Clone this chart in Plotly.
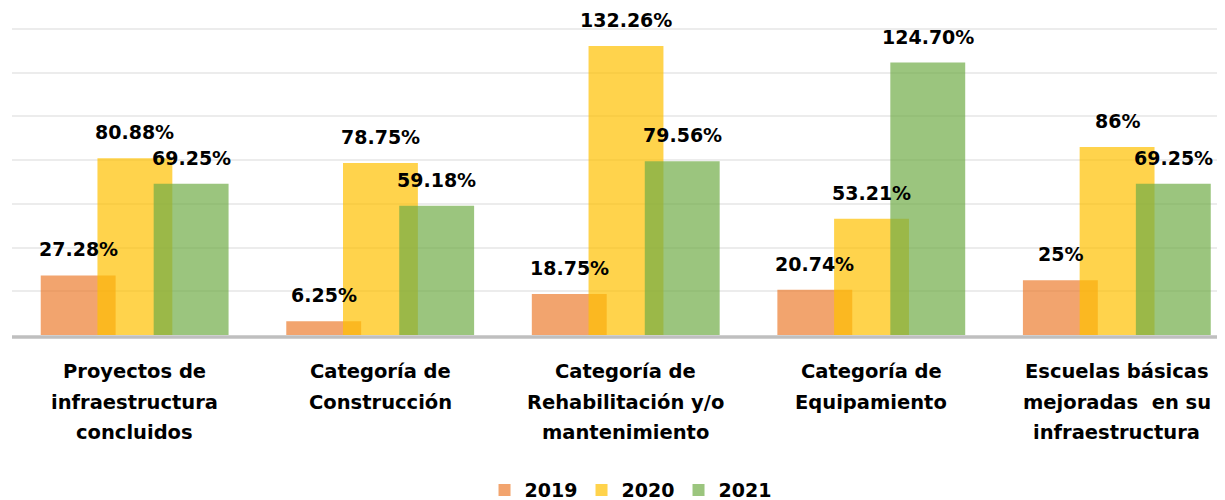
import plotly.graph_objects as go

categories = [
    "Proyectos de<br>infraestructura<br>concluidos",
    "Categoría de<br>Construcción",
    "Categoría de<br>Rehabilitación y/o<br>mantenimiento",
    "Categoría de<br>Equipamiento",
    "Escuelas básicas<br>mejoradas  en su<br>infraestructura",
]
years = ["2019", "2020", "2021"]
values_2019 = [27.28, 6.25, 18.75, 20.74, 25]
values_2020 = [80.88, 78.75, 132.26, 53.21, 86]
values_2021 = [69.25, 59.18, 79.56, 124.70, 69.25]
labels_2019 = ["27.28%", "6.25%", "18.75%", "20.74%", "25%"]
labels_2020 = ["80.88%", "78.75%", "132.26%", "53.21%", "86%"]
labels_2021 = ["69.25%", "59.18%", "79.56%", "124.70%", "69.25%"]

series = [
    (years[0], values_2019, labels_2019, "rgba(237,125,49,0.7)", -0.383),
    (years[1], values_2020, labels_2020, "rgba(255,192,0,0.7)", -0.152),
    (years[2], values_2021, labels_2021, "rgba(112,173,71,0.7)", 0.077),
]
BAR_W = 0.305
FONT = "DejaVu Sans"

fig = go.Figure()
annotations = []
for name, vals, labs, color, off in series:
    fig.add_trace(go.Bar(
        name=name, x=categories, y=vals,
        offset=off, width=BAR_W,
        marker=dict(color=color, line=dict(width=0)),
        hoverinfo="skip",
    ))
    for i, (v, t) in enumerate(zip(vals, labs)):
        annotations.append(dict(
            x=i + off + BAR_W / 2, y=v, xref="x", yref="y",
            text=t, showarrow=False, yanchor="bottom", yshift=13,
            font=dict(family=FONT, size=19, color="#000", weight="bold"),
        ))

# category labels, one annotation per line for Excel-like line spacing
line_shifts = [-36, -67, -97]
for i, cat in enumerate(categories):
    for j, line in enumerate(cat.split("<br>")):
        annotations.append(dict(
            x=i, y=0, xref="x", yref="paper",
            text=line, showarrow=False, yanchor="middle", yshift=line_shifts[j],
            font=dict(family=FONT, size=19.5, color="#000", weight="bold"),
        ))

# page body has an 8px default margin: figure is sized to fit the window
fig.update_layout(
    width=1217, height=492,
    margin=dict(l=4, r=0, t=20, b=165, pad=0, autoexpand=False),
    barmode="overlay",
    plot_bgcolor="white", paper_bgcolor="white",
    showlegend=True,
    legend=dict(
        orientation="h", x=0.5095, xanchor="center", y=-0.505, yanchor="middle",
        yref="paper", entrywidth=52, entrywidthmode="pixels",
        font=dict(family=FONT, size=19, color="#000", weight="bold"),
        itemclick=False, itemdoubleclick=False, traceorder="normal",
    ),
    xaxis=dict(
        type="category", range=[-0.5, 4.44], showticklabels=False,
        showgrid=False, zeroline=False, showline=False, fixedrange=True,
    ),
    yaxis=dict(
        range=[0, 140.5], tick0=0, dtick=20, showticklabels=False,
        showgrid=True, gridcolor="#ececec", gridwidth=1.5,
        zeroline=False, showline=False, fixedrange=True,
    ),
    annotations=annotations,
    shapes=[dict(
        type="rect", xref="paper", x0=0, x1=1,
        yref="paper", ysizemode="pixel", yanchor=0, y0=-0.3, y1=-3.8,
        fillcolor="#bfbfbf", line=dict(width=0), layer="above",
    )],
)

fig.write_html("out.html")
